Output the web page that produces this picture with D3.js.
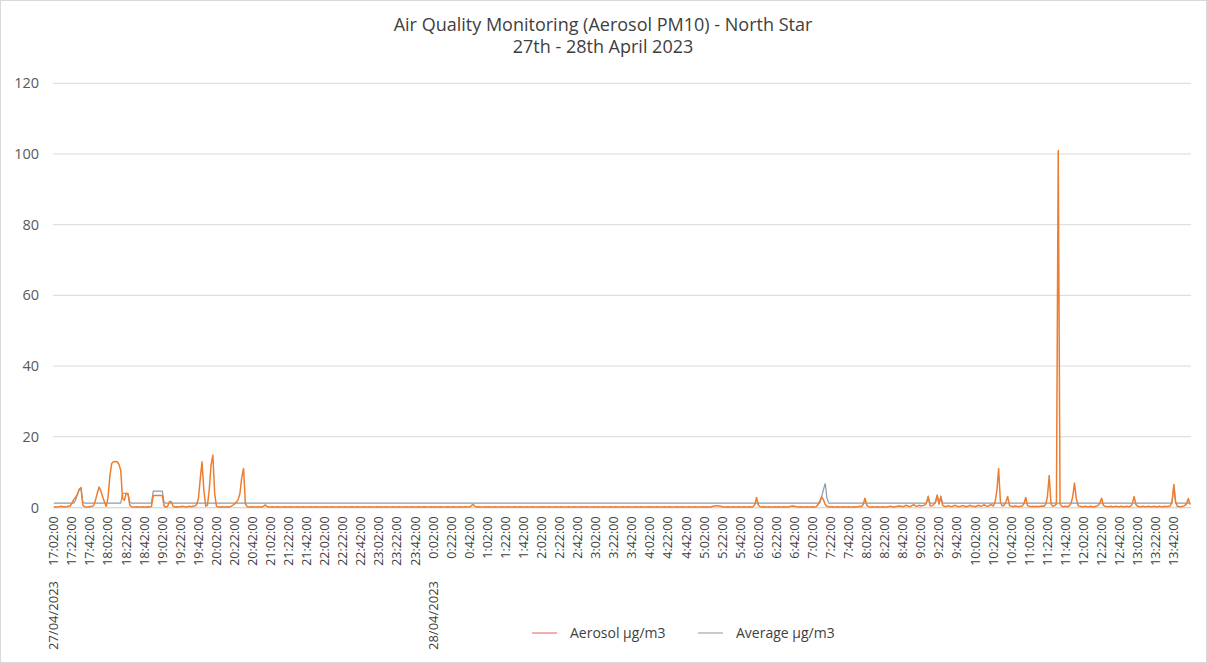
<!DOCTYPE html>
<html><head><meta charset="utf-8">
<script src="https://cdn.jsdelivr.net/npm/d3@7"></script>
<style>body{margin:0;background:#fff;} svg{display:block;font-family:'Open Sans',sans-serif;}</style>
</head><body><svg id="c" width="1207" height="663"></svg>
<script>
const titleLines = ["Air Quality Monitoring (Aerosol PM10) - North Star", "27th - 28th April 2023"];
const seriesNames = ["Aerosol µg/m3", "Average µg/m3"];
const dateLabels = [{date: "27/04/2023", index: 0}, {date: "28/04/2023", index: 210}];
const yTicks = [0, 20, 40, 60, 80, 100, 120];
const startMinute = 17 * 60 + 2;   // first reading 17:02, 27/04/2023
const stepMinutes = 2;
const labelEvery = 10;

// Aerosol µg/m3, one row per hour (30 readings, 2-minute interval)
const aerosol = [
  0.2,0.1,0.1,0.2,0.3,0.2,0.1,0.2,0.3,0.4, 1.2,2.2,2.8,3.8,5.0,5.5,0.6,0.2,0.1,0.1, 0.2,0.3,0.5,2.0,4.0,5.8,4.6,3.0,1.5,0.3,
  3.0,9.0,12.4,12.9,13.0,12.9,12.2,10.5,2.5,2.0, 4.0,3.9,0.6,0.2,0.1,0.1,0.2,0.1,0.1,0.2, 0.1,0.1,0.2,0.1,0.3,3.3,3.4,3.4,3.4,3.4,
  3.3,0.4,0.1,0.3,1.7,1.6,0.3,0.1,0.2,0.1, 0.2,0.3,0.2,0.1,0.2,0.3,0.2,0.3,0.4,0.8, 2.5,8.0,12.9,5.0,0.4,0.6,5.0,12.0,14.8,4.0,
  0.3,0.1,0.1,0.2,0.1,0.1,0.2,0.1,0.3,0.6, 1.0,1.5,2.2,4.0,8.5,11.0,1.0,0.2,0.1,0.1, 0.2,0.1,0.1,0.2,0.1,0.1,0.3,0.7,0.3,0.1,
  0.1,0.2,0.1,0.1,0.2,0.1,0.1,0.1,0.2,0.1, 0.1,0.2,0.1,0.1,0.1,0.2,0.1,0.1,0.2,0.1, 0.1,0.1,0.2,0.1,0.1,0.2,0.1,0.1,0.1,0.2,
  0.1,0.2,0.1,0.1,0.2,0.1,0.1,0.1,0.2,0.1, 0.1,0.2,0.1,0.1,0.1,0.2,0.1,0.1,0.2,0.1, 0.1,0.1,0.2,0.1,0.1,0.2,0.1,0.1,0.1,0.2,
  0.1,0.2,0.1,0.1,0.2,0.1,0.1,0.1,0.2,0.1, 0.1,0.2,0.1,0.1,0.1,0.2,0.1,0.1,0.2,0.1, 0.1,0.1,0.2,0.1,0.1,0.2,0.1,0.1,0.1,0.2,
  0.1,0.2,0.1,0.1,0.2,0.1,0.1,0.1,0.2,0.1, 0.1,0.2,0.1,0.1,0.1,0.2,0.1,0.1,0.2,0.1, 0.1,0.4,0.9,0.3,0.1,0.2,0.1,0.1,0.1,0.2,
  0.1,0.2,0.1,0.1,0.2,0.1,0.1,0.1,0.2,0.1, 0.1,0.2,0.1,0.1,0.1,0.2,0.1,0.1,0.2,0.1, 0.1,0.1,0.2,0.1,0.1,0.2,0.1,0.1,0.1,0.2,
  0.1,0.2,0.1,0.1,0.2,0.1,0.1,0.1,0.2,0.1, 0.1,0.2,0.1,0.1,0.1,0.2,0.1,0.1,0.2,0.1, 0.1,0.1,0.2,0.1,0.1,0.2,0.1,0.1,0.1,0.2,
  0.1,0.2,0.1,0.1,0.2,0.1,0.1,0.1,0.2,0.1, 0.1,0.2,0.1,0.1,0.1,0.2,0.1,0.1,0.2,0.1, 0.1,0.1,0.2,0.1,0.1,0.2,0.1,0.1,0.1,0.2,
  0.1,0.2,0.1,0.1,0.2,0.1,0.1,0.1,0.2,0.1, 0.1,0.2,0.1,0.1,0.1,0.2,0.1,0.1,0.2,0.1, 0.1,0.1,0.2,0.1,0.1,0.2,0.1,0.1,0.1,0.2,
  0.1,0.2,0.1,0.1,0.2,0.3,0.4,0.5,0.4,0.3, 0.2,0.1,0.1,0.2,0.1,0.1,0.2,0.1,0.1,0.2, 0.1,0.1,0.2,0.1,0.1,0.2,0.1,0.2,0.8,2.8,
  0.6,0.2,0.1,0.2,0.1,0.1,0.2,0.1,0.1,0.2, 0.1,0.2,0.1,0.1,0.2,0.1,0.1,0.2,0.3,0.4, 0.3,0.2,0.1,0.1,0.2,0.1,0.1,0.2,0.1,0.1,
  0.2,0.1,0.2,0.8,1.8,3.0,2.2,0.8,0.3,0.2, 0.1,0.2,0.1,0.1,0.2,0.1,0.1,0.2,0.1,0.1, 0.2,0.1,0.1,0.2,0.1,0.2,0.3,0.2,0.8,2.6,
  0.6,0.2,0.1,0.2,0.1,0.1,0.2,0.1,0.1,0.2, 0.1,0.1,0.2,0.3,0.2,0.1,0.2,0.3,0.4,0.3, 0.2,0.4,0.6,0.3,0.2,0.5,0.8,0.4,0.3,0.6,
  0.4,0.5,0.6,1.2,3.0,0.5,0.4,0.8,1.5,3.5, 1.0,3.0,0.6,0.3,0.2,0.5,0.3,0.2,0.4,0.6, 0.3,0.2,0.3,0.5,0.4,0.2,0.3,0.6,0.4,0.3,
  0.2,0.4,0.6,0.3,0.5,0.8,0.4,0.3,0.6,0.8, 0.4,1.5,4.5,11.0,1.5,0.4,0.6,1.5,3.1,0.6, 0.3,0.2,0.4,0.3,0.2,0.3,0.4,1.0,2.8,0.5,
  0.3,0.2,0.3,0.2,0.3,0.2,0.3,0.4,0.3,0.8, 3.0,9.0,1.0,0.3,0.5,1.0,101,1.0,0.3,0.2, 0.3,0.2,0.4,1.0,3.0,6.9,2.5,0.5,0.3,0.2,
  0.2,0.3,0.2,0.2,0.3,0.2,0.2,0.3,0.5,1.2, 2.6,0.6,0.3,0.2,0.2,0.3,0.2,0.2,0.3,0.2, 0.2,0.3,0.2,0.2,0.3,0.2,0.3,1.0,3.1,0.8,
  0.3,0.2,0.2,0.3,0.2,0.2,0.3,0.2,0.2,0.3, 0.2,0.2,0.3,0.2,0.2,0.3,0.2,0.3,0.4,1.5, 6.5,1.5,0.3,0.2,0.2,0.3,0.5,1.0,2.5,0.8
];

// Average µg/m3
const average = [
  1.2,1.2,1.2,1.2,1.2,1.2,1.2,1.2,1.2,1.2, 1.2,1.2,2.0,3.5,5.2,5.6,1.5,1.2,1.2,1.2, 1.2,1.2,1.2,1.2,1.2,1.2,1.2,1.2,1.2,1.2,
  1.2,1.2,1.2,1.2,1.2,1.2,1.2,1.2,3.8,4.0, 4.0,3.8,1.5,1.2,1.2,1.2,1.2,1.2,1.2,1.2, 1.2,1.2,1.2,1.2,1.2,4.6,4.6,4.6,4.6,4.6,
  4.6,1.4,1.2,1.2,1.2,1.2,1.2,1.2,1.2,1.2, 1.2,1.2,1.2,1.2,1.2,1.2,1.2,1.2,1.2,1.2, 1.2,1.2,1.2,1.2,1.2,1.2,1.2,1.2,1.2,1.2,
  1.2,1.2,1.2,1.2,1.2,1.2,1.2,1.2,1.2,1.2, 1.2,1.2,1.2,1.2,1.2,1.2,1.2,1.2,1.2,1.2, 1.2,1.2,1.2,1.2,1.2,1.2,1.2,1.2,1.2,1.2,
  1.2,1.2,1.2,1.2,1.2,1.2,1.2,1.2,1.2,1.2, 1.2,1.2,1.2,1.2,1.2,1.2,1.2,1.2,1.2,1.2, 1.2,1.2,1.2,1.2,1.2,1.2,1.2,1.2,1.2,1.2,
  1.2,1.2,1.2,1.2,1.2,1.2,1.2,1.2,1.2,1.2, 1.2,1.2,1.2,1.2,1.2,1.2,1.2,1.2,1.2,1.2, 1.2,1.2,1.2,1.2,1.2,1.2,1.2,1.2,1.2,1.2,
  1.2,1.2,1.2,1.2,1.2,1.2,1.2,1.2,1.2,1.2, 1.2,1.2,1.2,1.2,1.2,1.2,1.2,1.2,1.2,1.2, 1.2,1.2,1.2,1.2,1.2,1.2,1.2,1.2,1.2,1.2,
  1.2,1.2,1.2,1.2,1.2,1.2,1.2,1.2,1.2,1.2, 1.2,1.2,1.2,1.2,1.2,1.2,1.2,1.2,1.2,1.2, 1.2,1.2,1.2,1.2,1.2,1.2,1.2,1.2,1.2,1.2,
  1.2,1.2,1.2,1.2,1.2,1.2,1.2,1.2,1.2,1.2, 1.2,1.2,1.2,1.2,1.2,1.2,1.2,1.2,1.2,1.2, 1.2,1.2,1.2,1.2,1.2,1.2,1.2,1.2,1.2,1.2,
  1.2,1.2,1.2,1.2,1.2,1.2,1.2,1.2,1.2,1.2, 1.2,1.2,1.2,1.2,1.2,1.2,1.2,1.2,1.2,1.2, 1.2,1.2,1.2,1.2,1.2,1.2,1.2,1.2,1.2,1.2,
  1.2,1.2,1.2,1.2,1.2,1.2,1.2,1.2,1.2,1.2, 1.2,1.2,1.2,1.2,1.2,1.2,1.2,1.2,1.2,1.2, 1.2,1.2,1.2,1.2,1.2,1.2,1.2,1.2,1.2,1.2,
  1.2,1.2,1.2,1.2,1.2,1.2,1.2,1.2,1.2,1.2, 1.2,1.2,1.2,1.2,1.2,1.2,1.2,1.2,1.2,1.2, 1.2,1.2,1.2,1.2,1.2,1.2,1.2,1.2,1.2,1.2,
  1.2,1.2,1.2,1.2,1.2,1.2,1.2,1.2,1.2,1.2, 1.2,1.2,1.2,1.2,1.2,1.2,1.2,1.2,1.2,1.2, 1.2,1.2,1.2,1.2,1.2,1.2,1.2,1.2,1.2,1.2,
  1.2,1.2,1.2,1.2,1.2,1.2,1.2,1.2,1.2,1.2, 1.2,1.2,1.2,1.2,1.2,1.2,1.2,1.2,1.2,1.2, 1.2,1.2,1.2,1.2,1.2,1.2,1.2,1.2,1.2,1.2,
  1.2,1.2,1.2,1.2,1.2,3.0,5.0,6.8,2.5,1.2, 1.2,1.2,1.2,1.2,1.2,1.2,1.2,1.2,1.2,1.2, 1.2,1.2,1.2,1.2,1.2,1.2,1.2,1.2,1.2,1.2,
  1.2,1.2,1.2,1.2,1.2,1.2,1.2,1.2,1.2,1.2, 1.2,1.2,1.2,1.2,1.2,1.2,1.2,1.2,1.2,1.2, 1.2,1.2,1.2,1.2,1.2,1.2,1.2,1.2,1.2,1.2,
  1.2,1.2,1.2,1.2,3.0,1.2,1.2,1.2,1.2,3.2, 1.2,3.0,1.2,1.2,1.2,1.2,1.2,1.2,1.2,1.2, 1.2,1.2,1.2,1.2,1.2,1.2,1.2,1.2,1.2,1.2,
  1.2,1.2,1.2,1.2,1.2,1.2,1.2,1.2,1.2,1.2, 1.2,1.2,1.2,1.2,1.2,1.2,1.2,1.2,1.2,1.2, 1.2,1.2,1.2,1.2,1.2,1.2,1.2,1.2,1.2,1.2,
  1.2,1.2,1.2,1.2,1.2,1.2,1.2,1.2,1.2,1.2, 1.2,1.2,1.2,1.2,1.2,1.2,1.2,1.2,1.2,1.2, 1.2,1.2,1.2,1.2,1.2,1.2,1.2,1.2,1.2,1.2,
  1.2,1.2,1.2,1.2,1.2,1.2,1.2,1.2,1.2,1.2, 1.2,1.2,1.2,1.2,1.2,1.2,1.2,1.2,1.2,1.2, 1.2,1.2,1.2,1.2,1.2,1.2,1.2,1.2,1.2,1.2,
  1.2,1.2,1.2,1.2,1.2,1.2,1.2,1.2,1.2,1.2, 1.2,1.2,1.2,1.2,1.2,1.2,1.2,1.2,1.2,1.2, 6.0,1.2,1.2,1.2,1.2,1.2,1.2,1.2,1.2,1.2
];

const N = aerosol.length;
const categories = d3.range(N).map(i => {
  const m = (startMinute + i * stepMinutes) % 1440;
  return Math.floor(m / 60) + ":" + String(m % 60).padStart(2, "0") + ":00";
});
const tickIdx = d3.range(0, N, labelEvery);

const svg = d3.select("#c");
const W = 1207, H = 663;
const plot = {left: 53, right: 1191, top: 83.3, bottom: 507.4};

svg.append("rect").attr("x", 0.5).attr("y", 0.5).attr("width", W - 1).attr("height", H - 1)
  .attr("fill", "#fff").attr("stroke", "#D9D9D9");

const x = d3.scaleBand().domain(d3.range(N)).range([plot.left, plot.right]).padding(0);
const xc = i => x(i) + x.bandwidth() / 2;
const y = d3.scaleLinear().domain([0, 120]).range([plot.bottom, plot.top]);

// gridlines
svg.append("g").selectAll("line").data(yTicks).join("line")
  .attr("x1", plot.left).attr("x2", plot.right)
  .attr("y1", d => y(d)).attr("y2", d => y(d))
  .attr("stroke", "#D9D9D9").attr("stroke-width", 1);

// y axis labels
const yAxis = svg.append("g").attr("transform", "translate(39,0)")
  .call(d3.axisLeft(y).tickValues(yTicks).tickSize(0).tickPadding(0));
yAxis.select(".domain").remove();
yAxis.selectAll("text").attr("fill", "#595959").style("font-size", "14.5px").style("font-family", "'Open Sans',sans-serif");

// x axis
const xAxis = svg.append("g").attr("transform", `translate(0,${plot.bottom})`)
  .call(d3.axisBottom(x).tickValues(tickIdx).tickFormat(i => categories[i]).tickSize(0));
xAxis.select(".domain").attr("stroke", "#D9D9D9");
xAxis.selectAll("text")
  .attr("transform", "rotate(-90)")
  .attr("text-anchor", "end")
  .attr("x", -9).attr("y", 0).attr("dy", "0.35em")
  .attr("fill", "#404040").style("font-size", "12.5px").style("font-family", "'Open Sans',sans-serif");

// date labels (second category level)
svg.append("g").selectAll("text").data(dateLabels).join("text")
  .attr("transform", d => `translate(${xc(d.index)},581) rotate(-90)`)
  .attr("text-anchor", "end").attr("dy", "0.35em")
  .attr("fill", "#404040").style("font-size", "13px")
  .text(d => d.date);

// lines
const line = d3.line().x((d, i) => xc(i)).y(d => y(d));
svg.append("path").datum(average).attr("d", line)
  .attr("fill", "none").attr("stroke", "#8C9BAE").attr("stroke-width", 1.2);
svg.append("path").datum(aerosol).attr("d", line)
  .attr("fill", "none").attr("stroke", "#ED7D31").attr("stroke-width", 1.5).attr("stroke-linejoin", "round");

// title
svg.append("g").selectAll("text").data(titleLines).join("text")
  .attr("x", 603).attr("y", (d, i) => 31 + i * 22)
  .attr("text-anchor", "middle").attr("fill", "#404040").style("font-size", "18px")
  .text(d => d);

// legend
const legendItems = [
  {name: seriesNames[0], color: "#E8806A", x: 532},
  {name: seriesNames[1], color: "#A5A5A5", x: 698}
];
const lg = svg.append("g").selectAll("g").data(legendItems).join("g")
  .attr("transform", d => `translate(${d.x},633)`);
lg.append("line").attr("x1", 0).attr("x2", 25).attr("y1", 0).attr("y2", 0)
  .attr("stroke", d => d.color).attr("stroke-width", 1.2);
lg.append("text").attr("x", 38).attr("dy", "0.35em").attr("fill", "#404040")
  .style("font-size", "14px").text(d => d.name);
</script></body></html>
